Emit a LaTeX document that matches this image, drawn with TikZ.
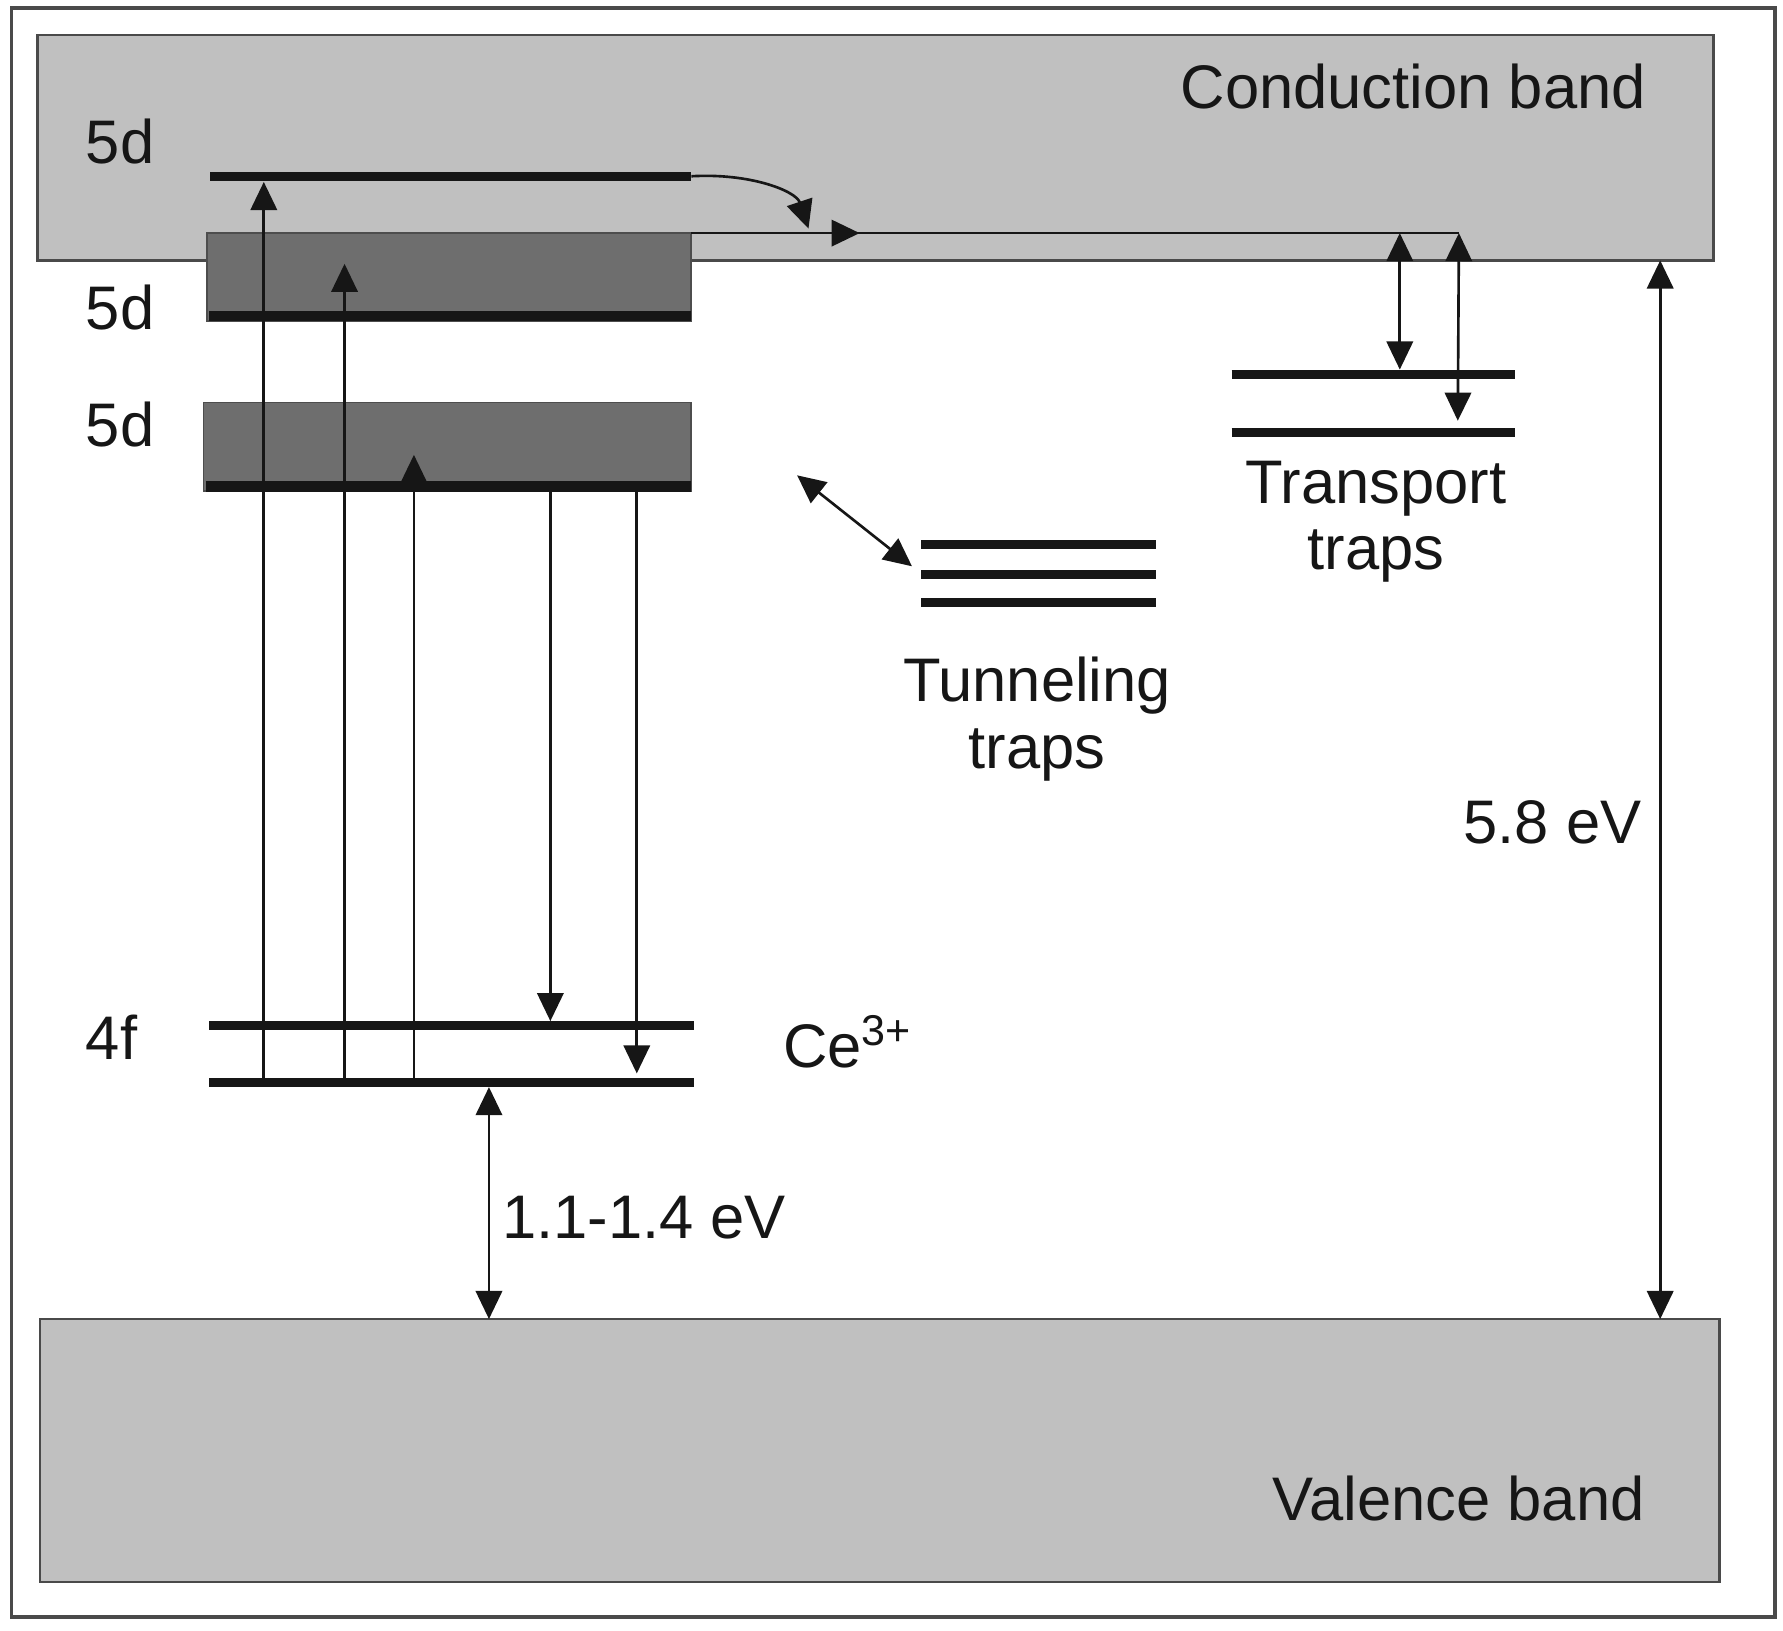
\documentclass[tikz,border=0pt]{standalone}
\usepackage{fontspec}
\setmainfont{Liberation Sans}
\usepackage{tikz}
\usetikzlibrary{arrows.meta}
\definecolor{ink}{HTML}{161616}
\definecolor{edge}{HTML}{4A4A4A}
\definecolor{bandgray}{HTML}{C0C0C0}
\definecolor{boxgray}{HTML}{6E6E6E}

\tikzset{
  band/.style={draw=edge,line width=0.7pt,fill=bandgray},
  dbox/.style={draw=boxgray!70!black,line width=0.5pt,fill=boxgray},
  level/.style={line width=2.6pt,ink},
  trans/.style={line width=0.75pt,ink},
  lbl/.style={font=\fontsize{17.5}{19}\selectfont,inner sep=0pt,text=ink},
}

\begin{document}
\begin{tikzpicture}[x=0.011371cm,y=-0.011371cm,>={Triangle[length=8pt,width=7.5pt]}]
        \useasboundingbox (0,0) rectangle (1568,1434);
        \draw[line width=0.9pt,edge] (10,7) rectangle (1561,1422);
        \coordinate (cb1) at (33,31);
        \coordinate (cb2) at (1507,229);
        \coordinate (vb1) at (35,1160);
        \coordinate (vb2) at (1512,1391);
        \draw[band] (cb1) rectangle (cb2);
        \draw[band] (vb1) rectangle (vb2);
        \node[lbl,anchor=base east] (cbl) at (1448,95) {Conduction band};
        \node[lbl,anchor=base east] (vbl) at (1447,1337) {Valence band};
        \coordinate (b2a) at (182,205);
        \coordinate (b2b) at (608,282);
        \coordinate (b3a) at (179,354);
        \coordinate (b3b) at (608,432);
        \draw[dbox] (b2a) rectangle (b2b);
        \draw[dbox] (b3a) rectangle (b3b);
        \draw[level,line width=3pt] (184,278) -- (608,278);
        \draw[level,line width=3pt] (181,428) -- (608,428);
        \coordinate (d1a) at (185,155);
        \coordinate (d1b) at (608,155);
        \draw[level] (d1a) -- (d1b);
        \coordinate (f1a) at (184,902);
        \coordinate (f1b) at (610,902);
        \coordinate (f2a) at (184,952);
        \coordinate (f2b) at (610,952);
        \draw[level] (f1a) -- (f1b);
        \draw[level] (f2a) -- (f2b);
        \node[lbl,anchor=base west] (l5a) at (75,143.6) {5d};
        \node[lbl,anchor=base west] (l5b) at (75,290) {5d};
        \node[lbl,anchor=base west] (l5c) at (75,393) {5d};
        \node[lbl,anchor=base west] (l4f) at (75,932) {4f};
        \node[lbl,anchor=base west] (ce) at (688,939) {Ce\textsuperscript{3+}};
        \coordinate (u1) at (232,160);
        \coordinate (u2) at (303,232);
        \coordinate (u3) at (364,400);
        \foreach \u in {u1,u2,u3}
          \draw[trans,->] (\u |- f2a) -- (\u);
        \coordinate (e1) at (484,898);
        \coordinate (e2) at (560,944);
        \foreach \e in {e1,e2}
          \draw[trans,->] (\e |- b3b) -- (\e);
        \coordinate (cbline) at (1283,205);
        \coordinate (cbmid) at (756,205);
        \draw[trans] (b2b |- b2a) -- (cbline);
        \draw[trans,->] (b2b |- b2a) -- (cbmid);
        \coordinate (drop) at (711,201);
        \draw[trans,->] (d1b) .. controls (660,152) and (700,168) .. (drop);
        \coordinate (t1a) at (1083,329);
        \coordinate (t1b) at (1332,329);
        \coordinate (t2a) at (1083,380);
        \coordinate (t2b) at (1332,380);
        \draw[level] (t1a) -- (t1b);
        \draw[level] (t2a) -- (t2b);
        \coordinate (x1) at (1231,325);
        \coordinate (x2) at (1282,370);
        \draw[trans,<->] (x1 |- cbline) -- (x1);
        \draw[trans,<->] (cbline) -- (x2);
        \node[lbl,anchor=north,align=center] (trl) at (1210,404.6) {Transport\\traps};
        \foreach \y in {479,505,530}
          \draw[level] (810,\y) -- (1017,\y);
        \coordinate (w1) at (701,418);
        \coordinate (w2) at (802,498);
        \draw[trans,<->] (w1) -- (w2);
        \node[lbl,anchor=north,align=center] (tul) at (912,577.5) {Tunneling\\traps};
        \coordinate (g1) at (430,956);
        \draw[trans,<->] (g1) -- (g1 |- vb1);
        \node[lbl,anchor=base west] (ctl) at (441,1089) {1.1-1.4 eV};
        \coordinate (g2) at (1460,0);
        \draw[trans,<->] (g2 |- cb2) -- (g2 |- vb1);
        \node[lbl,anchor=base east] (gapl) at (1444,741.5) {5.8 eV};
      \end{tikzpicture}
\end{document}
